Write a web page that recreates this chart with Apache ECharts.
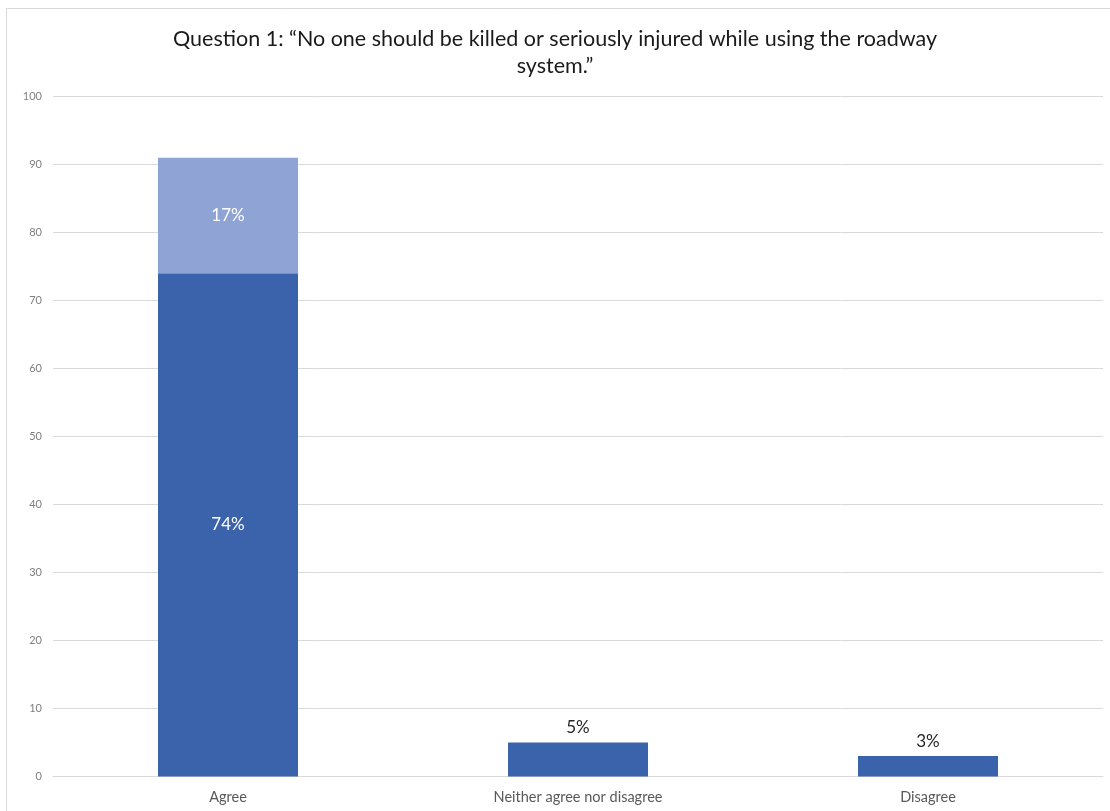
<!DOCTYPE html>
<html>
<head>
<meta charset="utf-8">
<title>Question 1</title>
<script src="https://cdn.jsdelivr.net/npm/echarts@6/dist/echarts.min.js"></script>
<style>
  html, body { margin: 0; padding: 0; background: #ffffff; }
  #chart { width: 1110px; height: 811px; }
</style>
</head>
<body>
<div id="chart"></div>
<script>
// Response categories along the x axis
const categories = ['Agree', 'Neither agree nor disagree', 'Disagree'];
// Lower (dark) segment of each column, in percent
const mainValues = [74, 5, 3];
// Upper (light) segment, only present on the Agree column
const strongValues = [17, null, null];
// Value axis range and step
const yMin = 0;
const yMax = 100;
const yStep = 10;

const titleText = 'Question 1: \u201cNo one should be killed or seriously injured while using the roadway\nsystem.\u201d';

const chart = echarts.init(document.getElementById('chart'), null, { renderer: 'canvas' });

const FONT = 'Lato, "Liberation Sans", sans-serif';

chart.setOption({
  backgroundColor: '#ffffff',
  animation: false,
  title: {
    text: titleText,
    left: 'center',
    top: 21,
    textStyle: {
      fontFamily: FONT,
      fontSize: 21.5,
      fontWeight: 'normal',
      color: '#1a1a1a',
      lineHeight: 27,
      align: 'center'
    }
  },
  graphic: [{
    type: 'rect',
    shape: { x: 6.5, y: 8.5, width: 1120, height: 820 },
    style: { fill: 'none', stroke: '#d9d9d9', lineWidth: 1 },
    silent: true,
    z: -1
  }],
  grid: {
    left: 53,
    right: 7,
    top: 96.5,
    bottom: 34.5,
    containLabel: false
  },
  xAxis: {
    type: 'category',
    data: categories,
    axisLine: { show: true, lineStyle: { color: '#d9d9d9', width: 1 } },
    axisTick: { show: false },
    axisLabel: {
      fontFamily: FONT,
      fontSize: 14.5,
      color: '#595959',
      margin: 13
    }
  },
  yAxis: {
    type: 'value',
    min: yMin,
    max: yMax,
    interval: yStep,
    axisLine: { show: false },
    axisTick: { show: false },
    splitLine: { show: true, lineStyle: { color: '#d9d9d9', width: 1 } },
    axisLabel: {
      fontFamily: FONT,
      fontSize: 11,
      color: '#7f7f7f',
      margin: 11
    }
  },
  series: [
    {
      name: 'Main',
      type: 'bar',
      stack: 'total',
      data: mainValues.map(function (v, i) {
        const inside = i === 0;
        return {
          value: v,
          label: inside
            ? { show: true, position: 'inside', color: '#ffffff', fontSize: 17, fontFamily: FONT }
            : { show: true, position: 'top', color: '#262626', fontSize: 17, fontFamily: FONT, distance: 6 }
        };
      }),
      barWidth: '40%',
      itemStyle: { color: '#3a63ab' },
      label: {
        show: true,
        fontFamily: FONT,
        formatter: function (p) { return p.value + '%'; }
      }
    },
    {
      name: 'Strong',
      type: 'bar',
      stack: 'total',
      data: strongValues,
      barWidth: '40%',
      itemStyle: { color: '#8fa3d4' },
      label: {
        show: true,
        position: 'inside',
        fontFamily: FONT,
        fontSize: 17,
        color: '#ffffff',
        formatter: function (p) { return p.value == null ? '' : p.value + '%'; }
      }
    }
  ]
});
</script>
</body>
</html>
